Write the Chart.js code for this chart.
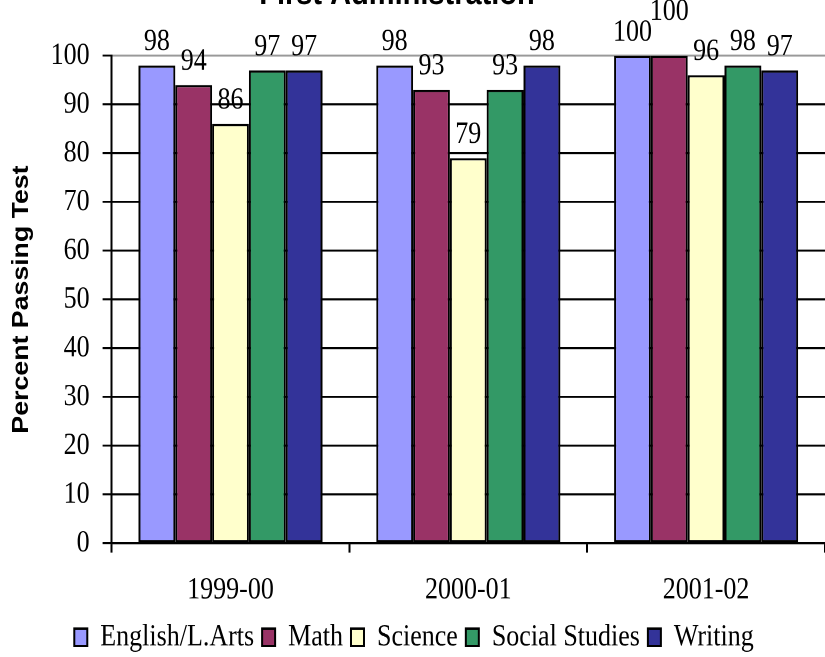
<!DOCTYPE html>
<html>
<head>
<meta charset="utf-8">
<script src="https://cdn.jsdelivr.net/npm/chart.js@4"></script>
<style>
  html, body { margin: 0; padding: 0; background: #fff; width: 825px; height: 657px; }
  #outer { position: relative; width: 825px; height: 657px; }
  /* the original picture is a little taller than it is wide, so stretch vertically */
  #wrap { position: absolute; left: 0; top: 0; width: 825px; height: 566px;
          transform: scaleY(1.1608); transform-origin: 0 0; }
</style>
</head>
<body>
<div id="outer"><div id="wrap"><canvas id="myChart"></canvas></div></div>
<script>
const years = ['1999-00', '2000-01', '2001-02'];
const english = [98, 98, 100];
const math = [94, 93, 100];
const science = [86, 79, 96];
const socialStudies = [97, 93, 98];
const writing = [97, 98, 97];
const yTicks = [0, 10, 20, 30, 40, 50, 60, 70, 80, 90, 100];

const serif = "'Times New Roman', 'Liberation Serif', serif";
const sans = "Arial, 'Liberation Sans', sans-serif";

// title sits half off the top edge, like the original
const topTitle = {
    id: 'topTitle',
    afterDraw(chart) {
        const c = chart.ctx;
        c.save();
        c.font = 'bold 29px ' + sans;
        c.fillStyle = '#000';
        c.textAlign = 'center';
        c.textBaseline = 'alphabetic';
        c.fillText('First Administration', 397, 3.5);
        c.restore();
    }
};

// value labels above each bar; a label that would collide with the
// one to its left gets pushed up, the way Excel does it
const barValues = {
    id: 'barValues',
    afterDatasetsDraw(chart) {
        const c = chart.ctx;
        c.save();
        c.font = '26px ' + serif;
        c.fillStyle = '#000';
        c.textAlign = 'center';
        c.textBaseline = 'middle';
        const n = chart.data.labels.length;
        for (let j = 0; j < n; j++) {
            let prev = null;
            chart.data.datasets.forEach((ds, i) => {
                const bar = chart.getDatasetMeta(i).data[j];
                const txt = String(ds.data[j]);
                const w = c.measureText(txt).width;
                let y = bar.y - 20;
                if (prev && Math.abs(bar.x - prev.x) < (w + prev.w) / 2 && Math.abs(y - prev.y) < 18) {
                    y = prev.y - 18;
                }
                c.fillText(txt, bar.x, y);
                prev = { x: bar.x, y: y, w: w };
            });
        }
        c.restore();
    }
};

function series(label, data, color) {
    return {
        label: label,
        data: data,
        backgroundColor: color,
        borderColor: '#000',
        borderWidth: 2,
        borderSkipped: false,
        categoryPercentage: 0.774,
        barPercentage: 1.0
    };
}

const ctx = document.getElementById('myChart').getContext('2d');
const chart = new Chart(ctx, {
    type: 'bar',
    data: {
        labels: years,
        datasets: [
            series('English/L.Arts', english, '#9999FF'),
            series('Math', math, '#993366'),
            series('Science', science, '#FFFFCC'),
            series('Social Studies', socialStudies, '#339966'),
            series('Writing', writing, '#333399')
        ]
    },
    options: {
        responsive: true,
        maintainAspectRatio: false,
        animation: false,
        devicePixelRatio: 2,
        layout: {
            padding: { top: 48, left: 3, right: 0, bottom: 0 }
        },
        plugins: {
            title: { display: false },
            tooltip: { enabled: false },
            legend: {
                display: true,
                position: 'bottom',
                maxHeight: 38,
                labels: {
                    boxWidth: 13,
                    boxHeight: 15,
                    padding: 8,
                    color: '#000',
                    font: { family: serif, size: 26 }
                }
            }
        },
        scales: {
            x: {
                afterFit(scale) {
                    scale.height = 60;
                },
                grid: {
                    offset: true,
                    drawOnChartArea: false,
                    drawTicks: true,
                    tickLength: 8,
                    tickColor: '#000',
                    tickWidth: 2
                },
                border: { color: '#000', width: 1.7 },
                ticks: {
                    color: '#000',
                    padding: 17,
                    font: { family: serif, size: 26 }
                }
            },
            y: {
                min: 0,
                max: 100,
                afterBuildTicks(axis) {
                    axis.ticks = yTicks.map(v => ({ value: v }));
                },
                grid: {
                    color: (c) => (c.tick && c.tick.value === 100 ? '#999' : '#000'),
                    lineWidth: 1.7,
                    tickLength: 9,
                    tickColor: '#000',
                    tickWidth: 1.7
                },
                border: { color: '#000', width: 2 },
                ticks: {
                    color: '#000',
                    padding: 13,
                    font: { family: serif, size: 26 }
                },
                title: {
                    display: true,
                    text: 'Percent Passing Test',
                    color: '#000',
                    padding: { top: 5, bottom: 2 },
                    font: { family: sans, size: 23, weight: 'bold' }
                }
            }
        }
    },
    plugins: [topTitle, barValues]
});
</script>
</body>
</html>
